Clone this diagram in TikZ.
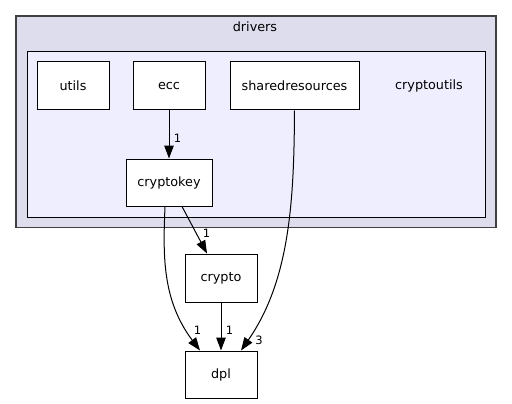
\documentclass[tikz,border=0pt]{standalone}
\usepackage{fontspec}
\setmainfont{DejaVu Sans}
\usetikzlibrary{arrows.meta,calc}
\definecolor{outerfill}{HTML}{DDDDEE}
\definecolor{outerline}{HTML}{404040}
\definecolor{innerfill}{HTML}{EEEEFF}
\begin{document}
\begin{tikzpicture}[x=1pt,y=-1pt,
  dirbox/.style={draw=black,fill=white,line width=1pt,minimum height=48pt,inner sep=0pt,font=\fontsize{12.8}{14}\selectfont},
  plain/.style={inner sep=0pt,font=\fontsize{12.8}{14}\selectfont},
  dep/.style={draw=black,line width=1pt,-{Triangle[length=13pt,width=9.5pt]}},
  elabel/.style={inner sep=0pt,font=\fontsize{11.5}{13}\selectfont}]
\useasboundingbox (0,0) rectangle (512,404);
\fill[white] (0,0) rectangle (512,404);
% clusters
\draw[fill=outerfill,draw=outerline,line width=1.4pt] (16,16) rectangle (496,227.5);
\node[plain] (driverslbl) at (255,27) {drivers};
\draw[fill=innerfill,draw=black,line width=1pt] (27,52) rectangle (485,217);
\node[plain] (cryptoutilslbl) at (429,86) {cryptoutils};
% nodes
\node[dirbox,minimum width=72pt] (utils) at (73,86) {utils};
\node[dirbox,minimum width=72pt] (ecc) at (169,86) {ecc};
\node[dirbox,minimum width=129pt] (sharedresources) at (294.5,86) {sharedresources};
\node[dirbox,minimum width=86pt,minimum height=47pt] (cryptokey) at (169,182.5) {cryptokey};
\node[dirbox,minimum width=72pt] (crypto) at (221,278) {crypto};
\node[dirbox,minimum width=72pt,minimum height=47pt] (dpl) at (221,374.5) {dpl};
% edges
\draw[dep] (ecc.south) -- (cryptokey.north);
\node[elabel] (l1) at (177.5,138) {1};
\draw[dep] ([xshift=13pt]cryptokey.south) -- ([xshift=-14pt]crypto.north);
\node[elabel] (l2) at (206.5,233) {1};
\draw[dep] ([xshift=-4pt]cryptokey.south) .. controls (163,255) and (162,300) .. ([xshift=-21pt]dpl.north);
\node[elabel] (l3) at (197.5,330) {1};
\draw[dep] (crypto.south) -- (dpl.north);
\node[elabel] (l4) at (229.5,330) {1};
\draw[dep] (sharedresources.south) .. controls (294,200) and (290,280) .. ([xshift=20pt]dpl.north);
\node[elabel] (l5) at (259,340.5) {3};
\end{tikzpicture}
\end{document}
